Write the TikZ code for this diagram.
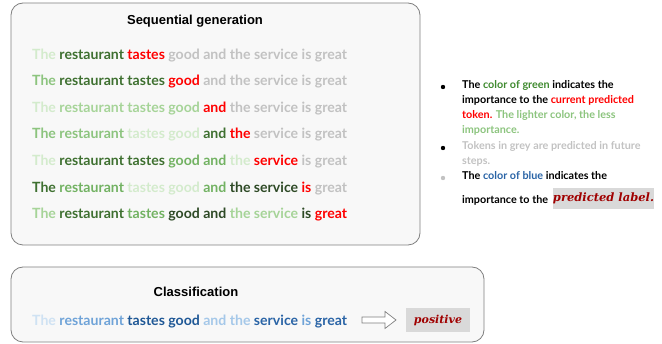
\documentclass[tikz,border=0pt]{standalone}
\usepackage{fontspec}
\setmainfont{Lato}
\newfontfamily\titlefont{Liberation Sans}
\newfontfamily\handfont{DejaVu Serif}
\usetikzlibrary{calc}
\definecolor{vlg}{HTML}{D3EBCC}
\definecolor{llg}{HTML}{A6D498}
\definecolor{mlg}{HTML}{8CC47E}
\definecolor{mg}{HTML}{72B262}
\definecolor{dg}{HTML}{3E7030}
\definecolor{ddg}{HTML}{2E4A26}
\definecolor{gry}{HTML}{C2C2C2}
\definecolor{rd}{HTML}{FF0000}
\definecolor{vlb}{HTML}{CFE2F3}
\definecolor{lb}{HTML}{A5C8E9}
\definecolor{mb}{HTML}{6FA3D8}
\definecolor{db}{HTML}{1F5896}
\definecolor{db2}{HTML}{2A64A6}
\definecolor{boxfill}{HTML}{F8F8F8}
\definecolor{boxline}{HTML}{7F7F7F}
\definecolor{lblfill}{HTML}{D9D9D9}
\definecolor{lbltext}{HTML}{A00000}
\definecolor{txtgreen}{HTML}{3F8A2F}
\definecolor{txtlgreen}{HTML}{8CC47E}
\definecolor{txtblue}{HTML}{2A64A6}
\newcommand{\tk}[2]{\textcolor{#1}{#2}}
\tikzset{
  panel/.style={draw=boxline, fill=boxfill, rounded corners=12pt, line width=0.8pt},
  paneltitle/.style={font=\titlefont\bfseries\fontsize{13}{15}\selectfont, inner sep=0pt},
  row/.style={anchor=west, inner sep=0pt, font=\bfseries\fontsize{14.1}{16}\selectfont},
  note/.style={anchor=north west, inner sep=0pt, align=left, font=\bfseries\fontsize{10.8}{15}\selectfont},
  lbl/.style={fill=lblfill, inner sep=0pt, text=lbltext},
  bul/.style={circle, inner sep=0pt, minimum size=4.4pt},
}
\begin{document}
\begin{tikzpicture}[x=1pt,y=-1pt]
\useasboundingbox (0,0) rectangle (662,344);
% top panel
\draw[panel] (11,3) rectangle (420,245);
\node[paneltitle] (t1) at (195,21.5) {Sequential generation};
\node[row] (r1) at (32,56) {\tk{vlg}{The} \tk{dg}{restaurant} \tk{rd}{tastes} \tk{gry}{good and the service is great}};
\node[row] (r2) at (32,82) {\tk{mlg}{The} \tk{dg}{restaurant tastes} \tk{rd}{good} \tk{gry}{and the service is great}};
\node[row] (r3) at (32,109) {\tk{vlg}{The} \tk{llg}{restaurant tastes good} \tk{rd}{and} \tk{gry}{the service is great}};
\node[row] (r4) at (32,135) {\tk{mlg}{The restaurant} \tk{vlg}{tastes good} \tk{dg}{and} \tk{rd}{the} \tk{gry}{service is great}};
\node[row] (r5) at (32,162) {\tk{vlg}{The} \tk{dg}{restaurant tastes} \tk{mg}{good and} \tk{vlg}{the} \tk{rd}{service} \tk{gry}{is great}};
\node[row] (r6) at (32,189) {\tk{dg}{The} \tk{mg}{restaurant} \tk{vlg}{tastes good} \tk{mg}{and} \tk{ddg}{the service} \tk{rd}{is} \tk{gry}{great}};
\node[row] (r7) at (32,215) {\tk{llg}{The} \tk{dg}{restaurant} \tk{mg}{tastes} \tk{ddg}{good and} \tk{llg}{the service} \tk{ddg}{is} \tk{rd}{great}};
% bottom panel
\draw[panel] (11,267) rectangle (484,342);
\node[paneltitle] (t2) at (196,292) {Classification};
\node[row] (c1) at (32,322) {\tk{vlb}{The} \tk{mb}{restaurant} \tk{db}{tastes good} \tk{lb}{and the} \tk{db2}{service} \tk{mb}{is} \tk{db2}{great}};
\node[lbl, minimum width=64pt, minimum height=24pt, font=\handfont\bfseries\itshape\fontsize{11}{13}\selectfont] (pos) at (438,320) {positive};
\coordinate (a0) at (362,320);
\draw[boxline, fill=white, line width=0.7pt]
  ($(a0)+(0,-3)$) -- ++(23,0) -- ++(0,-5.5) -- ++(11,8.5) -- ++(-11,8.5) -- ++(0,-5.5) -- ++(-23,0) -- cycle;
% notes
\node[bul, fill=black] (b1) at (443,87) {};
\node[bul, fill=black] (b2) at (443,148) {};
\node[bul, fill=gry] (b3) at (443,178) {};
\node[note] (n1) at (462,80) {The \tk{txtgreen}{color of green} indicates the\\importance to the \tk{rd}{current predicted}\\\tk{rd}{token.} \tk{txtlgreen}{The lighter color, the less}\\\tk{txtlgreen}{importance.}};
\node[note, text=gry] (n2) at (462,141) {Tokens in grey are predicted in future\\steps.};
\node[note] (n3) at (462,171) {The \tk{txtblue}{color of blue} indicates the};
\node[note, anchor=west] (n4) at (462,200) {importance to the};
\node[lbl, minimum width=91pt, minimum height=21pt, font=\handfont\bfseries\itshape\fontsize{11.5}{14}\selectfont] (pl) at (603.5,198.5) {predicted label.};
\end{tikzpicture}
\end{document}
